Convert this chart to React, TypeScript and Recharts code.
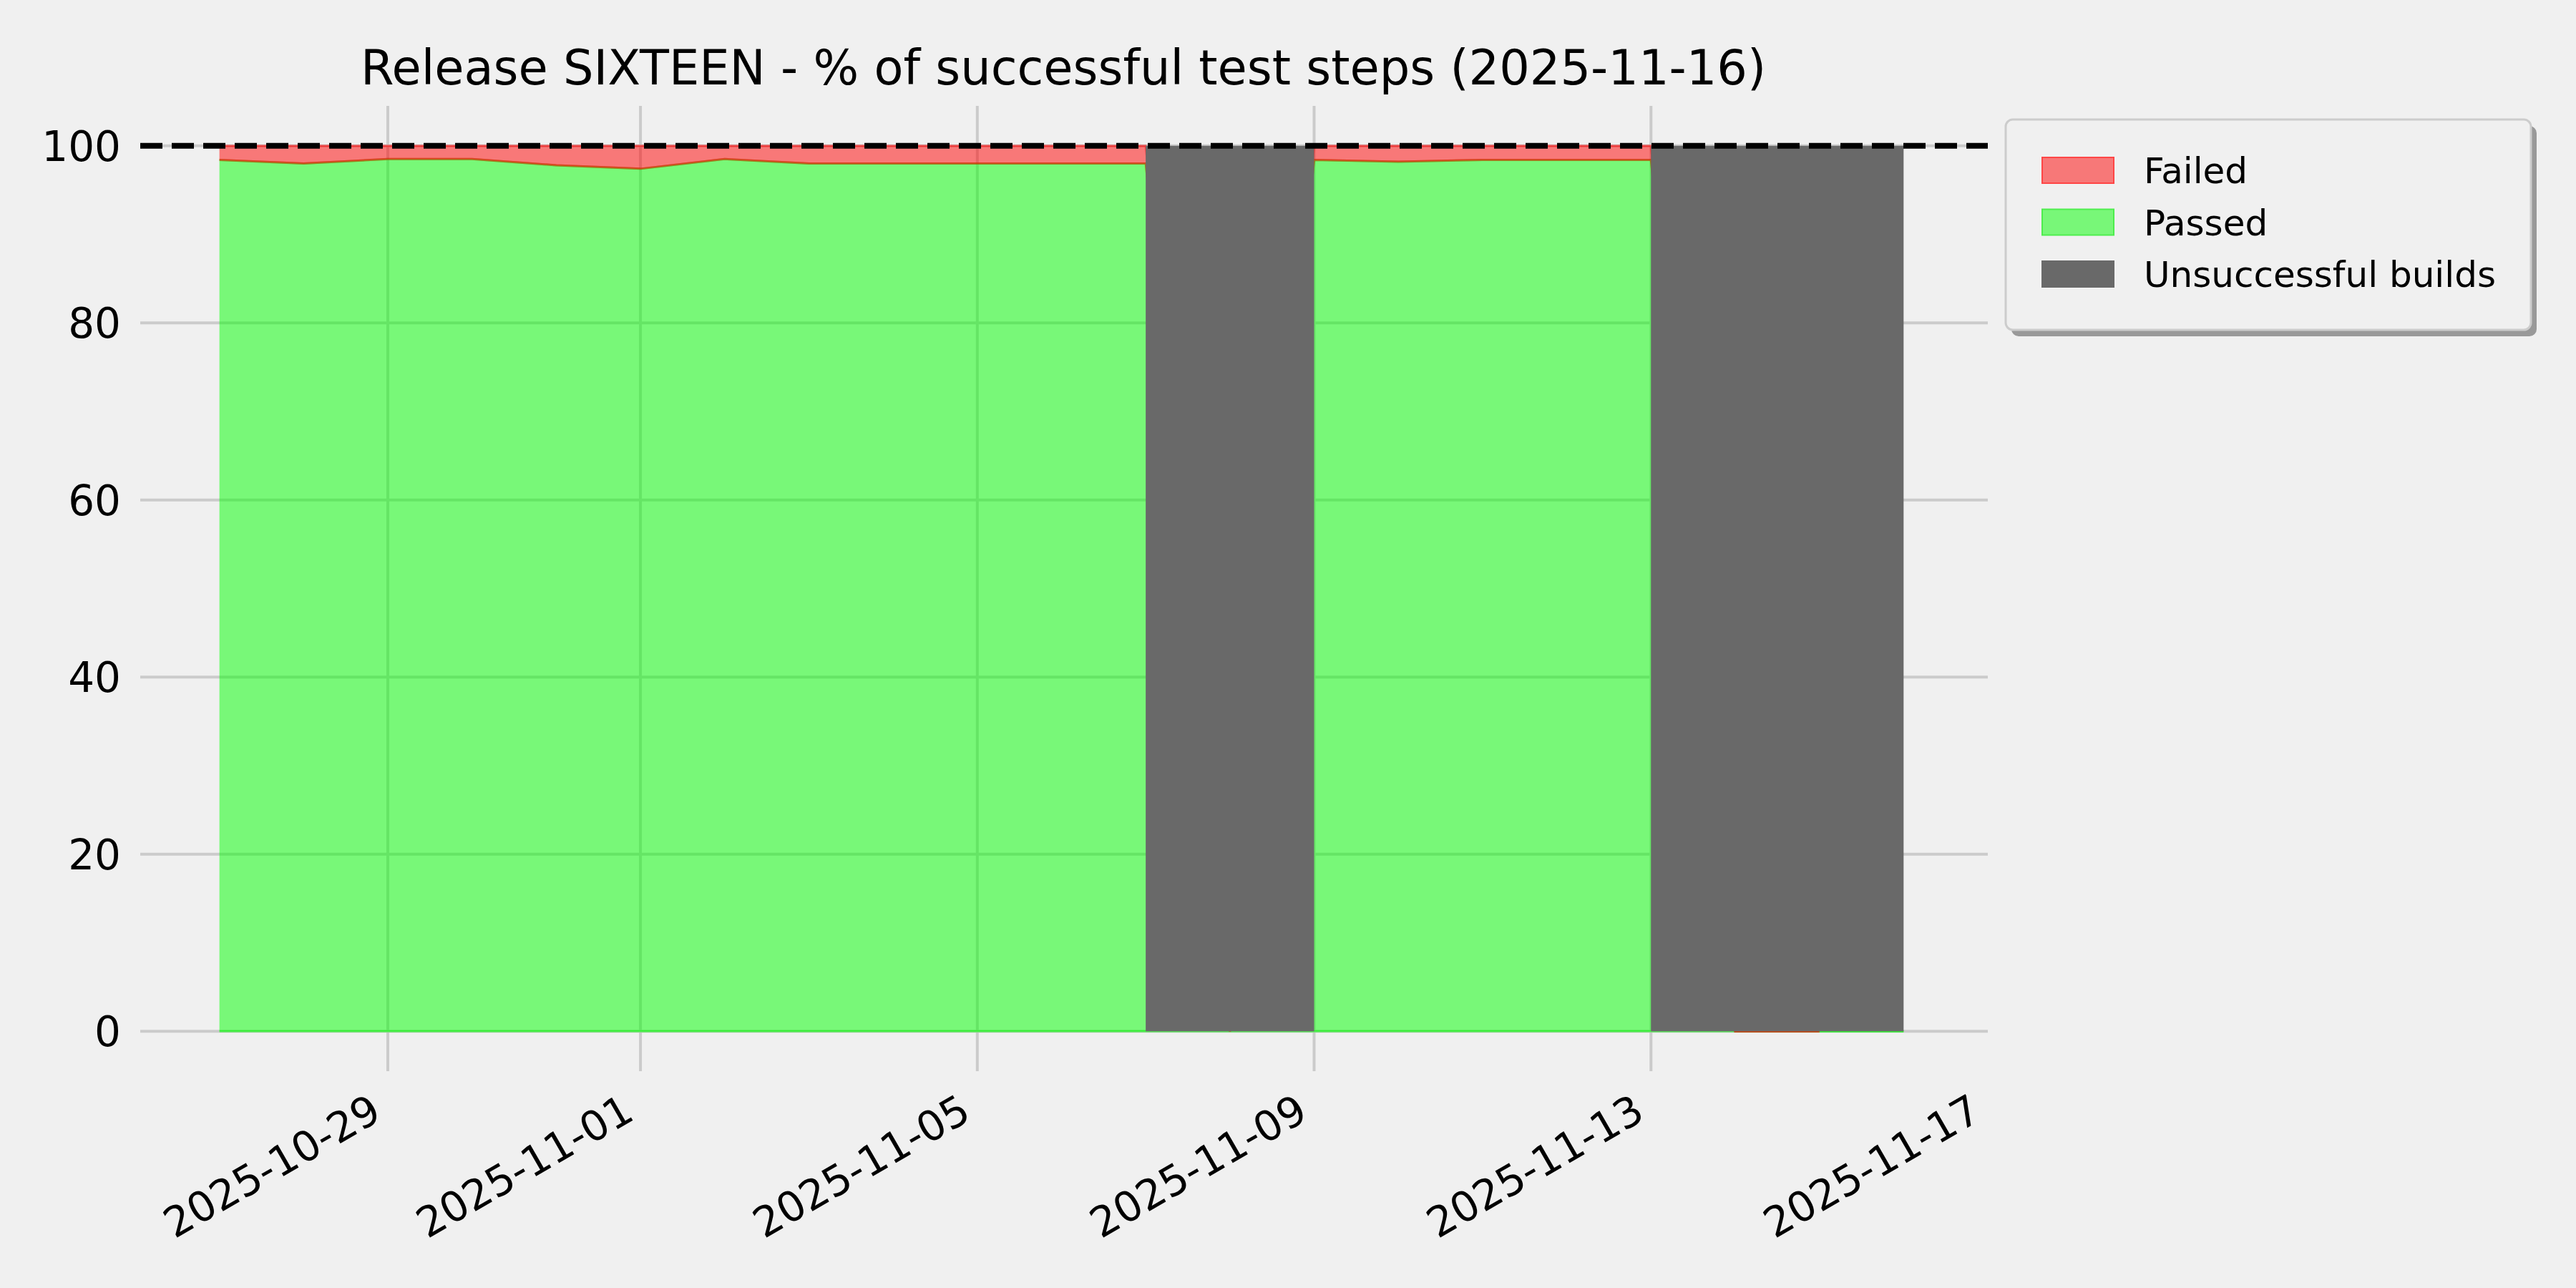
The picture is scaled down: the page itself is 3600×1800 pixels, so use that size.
import React from 'react'
import { ComposedChart, Area, XAxis, YAxis, CartesianGrid, ReferenceLine } from 'recharts'

const FONT = '"DejaVu Sans", Verdana, sans-serif'
const BG = '#f0f0f0'
const GRID = '#cbcbcb'

// one point per day of the release run
const dates = [
  '2025-10-27', '2025-10-28', '2025-10-29', '2025-10-30', '2025-10-31',
  '2025-11-01', '2025-11-02', '2025-11-03', '2025-11-04', '2025-11-05',
  '2025-11-06', '2025-11-07', '2025-11-08', '2025-11-09', '2025-11-10',
  '2025-11-11', '2025-11-12', '2025-11-13', '2025-11-14', '2025-11-15',
  '2025-11-16',
]
const passedPct = [
  98.4, 98.0, 98.5, 98.5, 97.8, 97.4, 98.5, 98.0, 98.0, 98.0,
  98.0, 98.0, 0, 98.4, 98.2, 98.4, 98.4, 98.4, 0, 0,
  0,
]
const failedPct = [
  1.6, 2.0, 1.5, 1.5, 2.2, 2.6, 1.5, 2.0, 2.0, 2.0,
  2.0, 2.0, 0, 1.6, 1.8, 1.6, 1.6, 1.6, 0, 0,
  null,
]
const unsuccessfulPct = [
  null, null, null, null, null, null, null, null, null, null,
  null, 100, 100, 100, null, null, null, 100, 100, 100,
  100,
]
const xTickDates = ['2025-10-29', '2025-11-01', '2025-11-05', '2025-11-09', '2025-11-13', '2025-11-17']
const yTicks = [0, 20, 40, 60, 80, 100]
const TARGET = 100

const legendItems = [
  { name: 'Failed', fill: '#f77878', stroke: '#ff4646' },
  { name: 'Passed', fill: '#78f778', stroke: '#4eed4e' },
  { name: 'Unsuccessful builds', fill: '#696969', stroke: '#696969' },
]

const DAY = 86400000
const t0 = Date.parse(dates[0])
const toDay = (s: string) => (Date.parse(s) - t0) / DAY
const toDate = (d: number) => new Date(t0 + Math.round(d) * DAY).toISOString().slice(0, 10)
const xTicks = xTickDates.map(toDay)
const X_DOMAIN: [number, number] = [-0.94, 21]

const data = dates.map((date, i) => {
  const p = passedPct[i]
  const f = failedPct[i]
  const u = unsuccessfulPct[i]
  return {
    day: toDay(date),
    passed: p == null ? null : [0, p],
    failed: p == null || f == null ? null : [p, p + f],
    unsuccessful: u == null ? null : [0, u],
  }
})

// vertical grid at the date ticks, but not the one sitting on the right edge
function verticalGrid({ offset }: any) {
  if (!offset) return []
  const [d0, d1] = X_DOMAIN
  return xTicks
    .map((t) => offset.left + ((t - d0) / (d1 - d0)) * offset.width)
    .filter((x) => x < offset.left + offset.width - 2)
}

function XTick(props: any) {
  const { x, y, payload } = props
  return (
    <text
      transform={`translate(${x - 6},${y + 66}) rotate(-30)`}
      textAnchor="end"
      fontSize={58}
      fontFamily={FONT}
      fill="#000"
    >
      {toDate(payload.value)}
    </text>
  )
}

function YTick(props: any) {
  const { x, y, payload } = props
  return (
    <text x={x - 27} y={y + 21} textAnchor="end" fontSize={58} fontFamily={FONT} fill="#000">
      {payload.value}
    </text>
  )
}

function Overlay() {
  const lx = 2803
  const ly = 167
  return (
    <svg width={3600} height={1800} style={{ position: 'absolute', left: 0, top: 0, pointerEvents: 'none' }}>
      <text x={1486} y={118} textAnchor="middle" fontSize={67} fontFamily={FONT} fill="#000">
        Release SIXTEEN - % of successful test steps (2025-11-16)
      </text>
      <rect x={lx + 8} y={ly + 9} width={734} height={294} rx={10} fill="#999999" />
      <rect x={lx} y={ly} width={734} height={294} rx={10} fill={BG} stroke="#cccccc" strokeWidth={3} />
      {legendItems.map((item, i) => (
        <g key={item.name}>
          <rect x={lx + 51} y={ly + 53 + i * 72.5} width={100} height={36} fill={item.fill} stroke={item.stroke} strokeWidth={2} />
          <text x={lx + 193} y={ly + 89 + i * 72.5} fontSize={50} fontFamily={FONT} fill="#000">
            {item.name}
          </text>
        </g>
      ))}
    </svg>
  )
}

export default function App() {
  return (
    <div style={{ position: 'absolute', left: 0, top: 0, width: 3600, height: 1800, background: BG, overflow: 'hidden' }}>
      <ComposedChart
        width={3600}
        height={1800}
        data={data}
        margin={{ top: 148, right: 822, bottom: 0, left: 0 }}
      >
        <CartesianGrid stroke={GRID} strokeWidth={4} syncWithTicks verticalCoordinatesGenerator={verticalGrid} />
        <XAxis
          type="number"
          dataKey="day"
          domain={X_DOMAIN}
          ticks={xTicks}
          tickFormatter={toDate}
          height={303}
          axisLine={false}
          tickLine={false}
          tickSize={0}
          tickMargin={0}
          interval={0}
          tick={<XTick />}
          allowDataOverflow
        />
        <YAxis
          type="number"
          domain={[-4.5, 104.5]}
          ticks={yTicks}
          width={196}
          axisLine={false}
          tickLine={false}
          tickSize={0}
          tickMargin={0}
          interval={0}
          tick={<YTick />}
          allowDataOverflow
        />
        <Area
          type="linear"
          dataKey="passed"
          name="Passed"
          fill="#00ff00"
          fillOpacity={0.5}
          stroke="#00ff00"
          strokeOpacity={0.5}
          strokeWidth={3}
          dot={false}
          activeDot={false}
          isAnimationActive={false}
        />
        <Area
          type="linear"
          dataKey="failed"
          name="Failed"
          fill="#ff0000"
          fillOpacity={0.5}
          stroke="#ff0000"
          strokeOpacity={0.5}
          strokeWidth={3}
          dot={false}
          activeDot={false}
          isAnimationActive={false}
        />
        <Area
          type="linear"
          dataKey="unsuccessful"
          name="Unsuccessful builds"
          fill="#696969"
          fillOpacity={1}
          stroke="none"
          dot={false}
          activeDot={false}
          isAnimationActive={false}
        />
        <ReferenceLine y={TARGET} stroke="#000" strokeWidth={8} strokeDasharray="31 13" />
      </ComposedChart>
      <Overlay />
    </div>
  )
}
